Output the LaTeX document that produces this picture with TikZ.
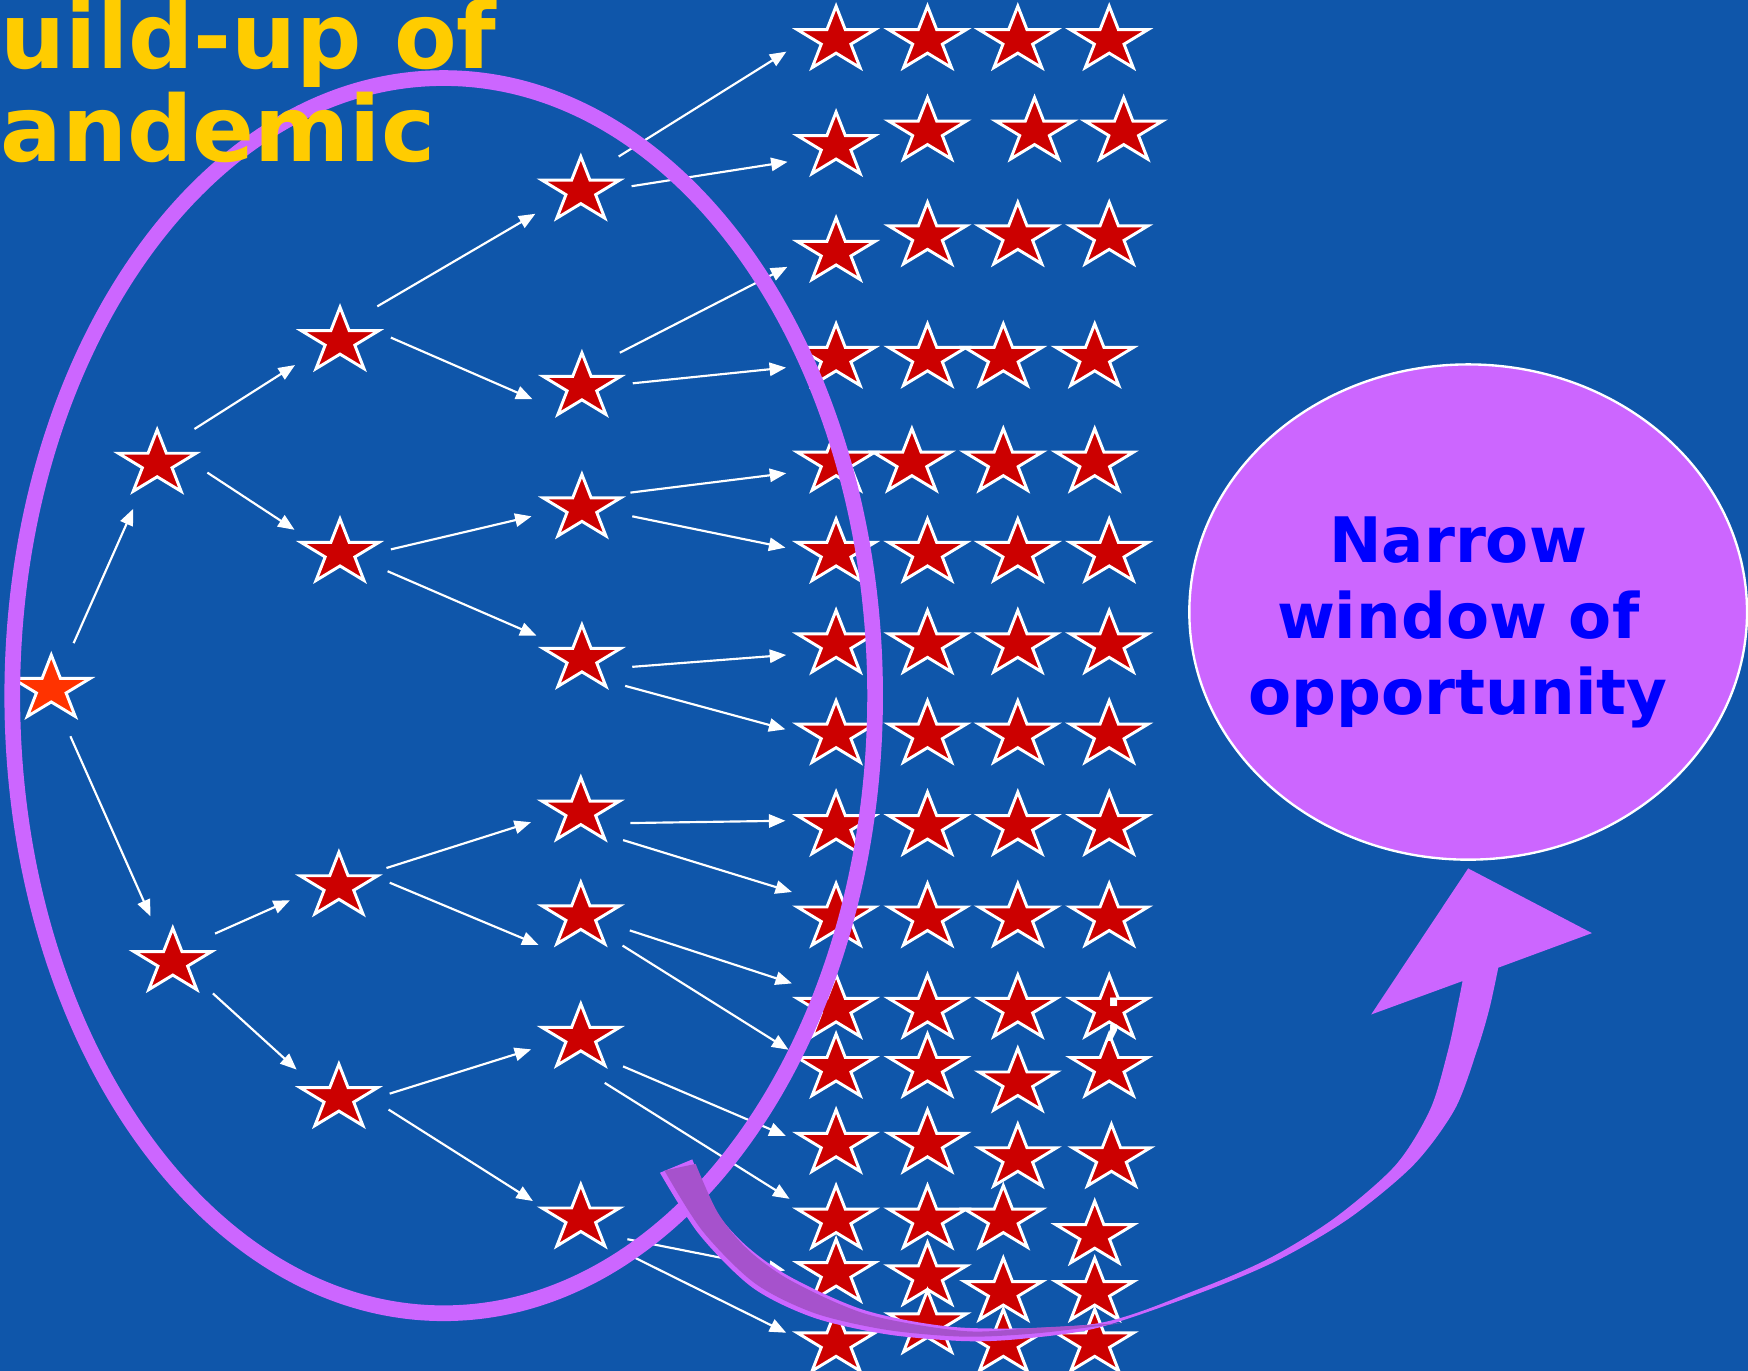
\documentclass[tikz,border=0pt]{standalone}
\usepackage{fontspec}
\setmainfont{DejaVu Sans}
\usetikzlibrary{shapes.geometric, arrows.meta}

\definecolor{bgdark}{RGB}{15,86,170}
\definecolor{bglight}{RGB}{28,108,192}
\definecolor{casered}{RGB}{204,0,0}
\definecolor{indexred}{RGB}{255,51,0}
\definecolor{lilac}{RGB}{204,102,255}
\definecolor{darklilac}{RGB}{166,82,204}
\definecolor{gold}{RGB}{255,204,0}

\begin{document}
\begin{tikzpicture}[
    x=0.01cm, y=-0.01cm,
    star5/.style={star, star points=5, star point ratio=2.618, minimum size=6.1mm,
        inner sep=0pt, draw=white, line width=0.75pt, xscale=1.2, transform shape},
    case/.style={circle, minimum size=9mm, inner sep=0pt, label={[star5, fill=#1]center:}},
    case/.default=casered,
    spread/.style={-{Triangle[length=4.2pt, width=3.4pt]}, white, line width=0.55pt},
    title/.style={gold, inner sep=0pt, anchor=base west, font=\fontsize{23.3}{28}\selectfont\bfseries},
    window/.style={ellipse, fill=lilac, draw=white, line width=0.6pt, inner sep=0pt,
        minimum width=5cm, minimum height=4.44cm},
    windowtext/.style={blue, align=center, inner sep=0pt, font=\fontsize{16}{19.4}\selectfont\bfseries}
]
    \useasboundingbox (0,0) rectangle (1568,1229);
    \shade[top color=bgdark, middle color=bglight, bottom color=bgdark] (0,0) rectangle (1568,1229);

    % generations of cases
    \node[case=indexred] (idx) at (46,618) {};
    \node[case] (g1a) at (141,416) {};
    \node[case] (g1b) at (155,863) {};
    \node[case] (g2a) at (305,306) {};
    \node[case] (g2b) at (305,496) {};
    \node[case] (g2c) at (304,795) {};
    \node[case] (g2d) at (304,985) {};
    \node[case] (g3a) at (521,171) {};
    \node[case] (g3b) at (522,347) {};
    \node[case] (g3c) at (522,456) {};
    \node[case] (g3d) at (522,591) {};
    \node[case] (g3e) at (521,728) {};
    \node[case] (g3f) at (521,822) {};
    \node[case] (g3g) at (521,931) {};
    \node[case] (g3h) at (521,1093) {};

    % the crowd
    \foreach \n/\y in {1/36, 2/131, 3/226, 4/321, 5/415, 6/496, 7/578, 8/659,
        9/741, 10/823, 11/905, 12/958, 13/1026, 14/1094, 15/1142, 16/1205}
        \node[case] (s\n) at (750,\y) {};
    \foreach \n/\x/\y in {1/832/36, 2/832/118, 3/832/212, 4/832/321, 5/818/415, 6/832/496,
        7/832/578, 8/832/659, 9/832/741, 10/832/823, 11/832/905, 12/832/958,
        13/832/1026, 14/832/1094, 15/832/1145, 16/832/1188}
        \node[case] (s\n b) at (\x,\y) {};
    \foreach \n/\x/\y in {1/913/36, 2/928/118, 3/913/212, 4/900/321, 5/900/415, 6/913/496,
        7/913/578, 8/913/659, 9/913/741, 10/913/823, 11/913/905, 12/913/971,
        13/913/1039, 14/900/1094, 15/900/1159, 16/900/1205}
        \node[case] (s\n c) at (\x,\y) {};
    \foreach \n/\x/\y in {1/995/36, 2/1008/118, 3/995/212, 4/982/321, 5/982/415, 6/995/496,
        7/995/578, 8/995/659, 9/995/741, 10/995/823, 11/995/905, 12/995/958,
        13/997/1039, 14/982/1108, 15/982/1159, 16/982/1205}
        \node[case] (s\n d) at (\x,\y) {};
    \node[white, inner sep=0pt, font=\fontsize{17.5}{20}\selectfont] (mark) at (999,915) {;};

    \draw[spread] (idx.64) -- (g1a.-118);
    \draw[spread] (idx.-68) -- (g1b.116);
    \draw[spread] (g1a.43) -- (g2a.-152);
    \draw[spread] (g1a.-10) -- (g2b.153);
    \draw[spread] (g1b.34) -- (g2c.-164);
    \draw[spread] (g1b.-38) -- (g2d.146);
    \draw[spread] (g2a.43) -- (g3a.-153);
    \draw[spread] (g2a.4) -- (g3b.-166);
    \draw[spread] (g2b.4) -- (g3c.-171);
    \draw[spread] (g2b.-21) -- (g3d.153);
    \draw[spread] (g2c.21) -- (g3e.-168);
    \draw[spread] (g2c.4) -- (g3f.-146);
    \draw[spread] (g2d.5) -- (g3g.-167);
    \draw[spread] (g2d.-13) -- (g3h.160);
    \draw[spread] (g3a.42) -- (s1.-167);
    \draw[spread] (g3a.5) -- (s2.-162);
    \draw[spread] (g3b.42) -- (s3.-163);
    \draw[spread] (g3b.4) -- (s4.-169);
    \draw[spread] (g3c.18) -- (s5.-168);
    \draw[spread] (g3c.-9) -- (s6.174);
    \draw[spread] (g3d.-9) -- (s7.-168);
    \draw[spread] (g3d.-32) -- (s8.174);
    \draw[spread] (g3e.-13) -- (s9.174);
    \draw[spread] (g3e.-34) -- (s10.150);
    \draw[spread] (g3f.-16) -- (s11.150);
    \draw[spread] (g3f.-35) -- (s12.159);
    \draw[spread] (g3g.-34) -- (s13.171);
    \draw[spread] (g3g.-62) -- (s14.156);
    \draw[spread] (g3h.-24) -- (s15.177);
    \draw[spread] (g3h.-39) -- (s16.168);

    % build-up ring
    \draw[lilac, line width=4pt] (398,624) ellipse [x radius=387, y radius=554];

    \node[title] (head1) at (0,61) {uild-up of};
    \node[title] (head2) at (0,145) {andemic};

    \node[window] (win) at (1317,549) {};
    \node[windowtext] (msg) at (1308,558) {Narrow\\window of\\opportunity};

    % curved arrow
    \fill[lilac] (1317,779) -- (1428,837) -- (1344,868)
        -- plot[smooth] coordinates {(1344,868) (1336,905) (1325,942) (1305,995) (1268,1045)
            (1210,1093) (1145,1131) (1076,1160) (985,1191) (916,1201) (865,1203) (796,1197)
            (730,1182) (675,1155) (627,1107) (592,1052)}
        -- (621,1040)
        -- plot[smooth] coordinates {(621,1040) (641,1085) (670,1118) (710,1146) (778,1176)
            (865,1191) (985,1187) (1076,1156) (1140,1128) (1198,1092) (1252,1045) (1283,995)
            (1299,942) (1307,905) (1312,880)}
        -- (1230,910) -- cycle;
    \fill[darklilac] plot[smooth] coordinates {(596,1050) (630,1104) (677,1151) (731,1178)
            (796,1193) (865,1199) (930,1196) (1005,1187)}
        -- plot[smooth] coordinates {(1005,1187) (930,1191) (865,1194) (778,1179) (710,1149)
            (671,1121) (644,1088) (624,1044)} -- cycle;
\end{tikzpicture}
\end{document}
